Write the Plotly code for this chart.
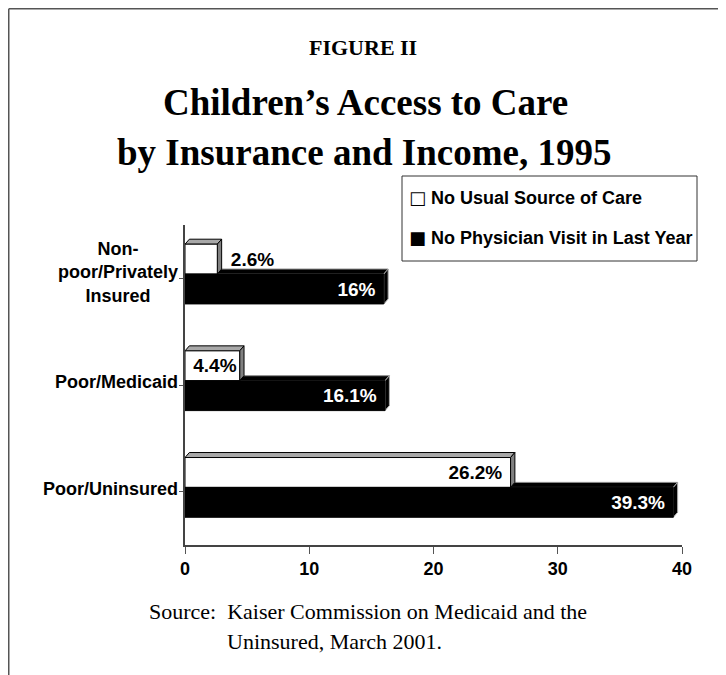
import plotly.graph_objects as go

# ---- data ----
categories = ["Non-<br>poor/Privately<br>Insured", "Poor/Medicaid", "Poor/Uninsured"]
no_usual_source = [2.6, 4.4, 26.2]
no_physician_visit = [16.0, 16.1, 39.3]
no_usual_labels = ["2.6%", "4.4%", "26.2%"]
no_visit_labels = ["16%", "16.1%", "39.3%"]
series_names = ["No Usual Source of Care", "No Physician Visit in Last Year"]
x_ticks = [0, 10, 20, 30, 40]

# ---- geometry (page px; the page body adds an 8px offset) ----
OFS = 8
W, H = 726 - OFS, 675 - OFS
L, R, T, B = 185 - OFS, 44, 225 - OFS, 130
PW, PH = W - L - R, H - T - B


def px_x(p):
    return (p - OFS - L) / PW


def px_y(p):
    return (H - B - (p - OFS)) / PH


pos = list(range(len(categories)))
BW = 0.28
OFF_W, OFF_B = -0.32, -0.04
DX, DY = 0.35, 0.047  # 3-D depth in data units

sans = "Liberation Sans, Arial, sans-serif"
serif = "Liberation Serif, Times New Roman, serif"
NB = "\u00a0"

fig = go.Figure()
fig.add_trace(go.Bar(
    y=pos, x=no_usual_source, orientation="h", name=series_names[0],
    width=BW, offset=OFF_W, base=0,
    marker=dict(color="white", line=dict(color="black", width=1)),
    text=no_usual_labels,
    texttemplate=[f"<b>{NB}{NB}%{{text}}</b>", "<b>%{text}</b>", f"<b>%{{text}}{NB}</b>"],
    textposition=["outside", "inside", "inside"],
    insidetextanchor="end", constraintext="none", textangle=0,
    textfont=dict(family=sans, size=19, color="black", weight="bold"),
    outsidetextfont=dict(family=sans, size=19, color="black", weight="bold"),
    insidetextfont=dict(family=sans, size=19, color="black", weight="bold"),
    cliponaxis=False, showlegend=False,
))
fig.add_trace(go.Bar(
    y=pos, x=no_physician_visit, orientation="h", name=series_names[1],
    width=BW, offset=OFF_B, base=0,
    marker=dict(color="black", line=dict(color="black", width=1)),
    text=no_visit_labels, texttemplate=f"<b>%{{text}}{NB}</b>", textposition="inside",
    insidetextanchor="end", constraintext="none", textangle=0,
    insidetextfont=dict(family=sans, size=19, color="white", weight="bold"),
    cliponaxis=False, showlegend=False,
))

shapes = []
# 3-D faces computed from data values
for c, vw, vb in zip(pos, no_usual_source, no_physician_visit):
    yt = c + OFF_B
    yb = yt + BW
    shapes.append(dict(type="path", xref="x", yref="y", layer="below",
                       path=f"M 0,{yt} L {vb},{yt} L {vb+DX},{yt-DY} L {DX},{yt-DY} Z",
                       fillcolor="black", line=dict(color="#888", width=1)))
    shapes.append(dict(type="path", xref="x", yref="y", layer="below",
                       path=f"M {vb},{yt} L {vb+DX},{yt-DY} L {vb+DX},{yb-DY} L {vb},{yb} Z",
                       fillcolor="black", line=dict(color="#aaa", width=1)))
    yt = c + OFF_W
    yb = yt + BW
    shapes.append(dict(type="path", xref="x", yref="y", layer="below",
                       path=f"M 0,{yt} L {vw},{yt} L {vw+DX},{yt-DY} L {DX},{yt-DY} Z",
                       fillcolor="#a8a8a8", line=dict(color="black", width=1)))
    shapes.append(dict(type="path", xref="x", yref="y", layer="below",
                       path=f"M {vw},{yt} L {vw+DX},{yt-DY} L {vw+DX},{yb-DY} L {vw},{yb} Z",
                       fillcolor="#808080", line=dict(color="black", width=1)))

# page frame (left and top)
fx = px_x(OFS + 0.75)
fy = px_y(OFS + 0.75)
shapes.append(dict(type="line", xref="paper", yref="paper",
                   x0=fx, y0=fy, x1=px_x(730), y1=fy,
                   line=dict(color="#555", width=1.5)))
shapes.append(dict(type="line", xref="paper", yref="paper",
                   x0=fx, y0=fy, x1=fx, y1=px_y(680),
                   line=dict(color="#555", width=1.5)))
# legend box
shapes.append(dict(type="rect", xref="paper", yref="paper",
                   x0=px_x(402), y0=px_y(176), x1=px_x(697), y1=px_y(261),
                   fillcolor="white", line=dict(color="#333", width=1)))

annotations = []
for c, name in zip(pos, categories):
    annotations.append(dict(x=0, xref="paper", y=c, yref="y", text=f"<b>{name}</b>",
                            xanchor="right", yanchor="middle", xshift=-5,
                            yshift=(6 if "<br>" in name else 3),
                            align="center", showarrow=False,
                            font=dict(family=sans, size=18, color="black", weight="bold")))
# legend entries
for i, (name, glyph) in enumerate(zip(series_names, ["□", "■"])):
    annotations.append(dict(x=px_x(407), y=px_y(197 + 40 * i), xref="paper", yref="paper",
                            text=f"<span style='font-family:DejaVu Sans'>{glyph}</span><b> {name}</b>",
                            showarrow=False, xanchor="left", yanchor="middle",
                            font=dict(family=sans, size=18, color="black", weight="bold")))
annotations += [
    dict(x=px_x(363), y=px_y(48), xref="paper", yref="paper", text="<b>FIGURE II</b>",
         showarrow=False, xanchor="center", yanchor="middle",
         font=dict(family=serif, size=22, color="black", weight="bold")),
    dict(x=px_x(365), y=px_y(103), xref="paper", yref="paper",
         text="<b>Children’s Access to Care</b>",
         showarrow=False, xanchor="center", yanchor="middle",
         font=dict(family=serif, size=37, color="black", weight="bold")),
    dict(x=px_x(364), y=px_y(153), xref="paper", yref="paper",
         text="<b>by Insurance and Income, 1995</b>",
         showarrow=False, xanchor="center", yanchor="middle",
         font=dict(family=serif, size=37, color="black", weight="bold")),
    dict(x=px_x(147), y=px_y(611), xref="paper", yref="paper",
         text="Source:  Kaiser Commission on Medicaid and the",
         showarrow=False, xanchor="left", yanchor="middle",
         font=dict(family=serif, size=22, color="black")),
    dict(x=px_x(225), y=px_y(641), xref="paper", yref="paper",
         text="Uninsured, March 2001.",
         showarrow=False, xanchor="left", yanchor="middle",
         font=dict(family=serif, size=22, color="black")),
]

fig.update_layout(
    width=W, height=H,
    margin=dict(l=L, r=R, t=T, b=B),
    paper_bgcolor="white", plot_bgcolor="white",
    barmode="overlay",
    shapes=shapes, annotations=annotations,
    showlegend=False,
    xaxis=dict(range=[0, 40], tickvals=x_ticks, ticks="outside", ticklen=7,
               tickcolor="#555", showline=True, linecolor="#444", linewidth=1.5,
               showgrid=False, zeroline=False,
               tickfont=dict(family=sans, size=18, color="black", weight="bold")),
    yaxis=dict(range=[2.5, -0.5], tickvals=pos, showticklabels=False,
               ticks="outside", ticklen=4, tickcolor="#555",
               showline=True, linecolor="#444", linewidth=1.5,
               showgrid=False, zeroline=False),
)

fig.write_html("out.html")
